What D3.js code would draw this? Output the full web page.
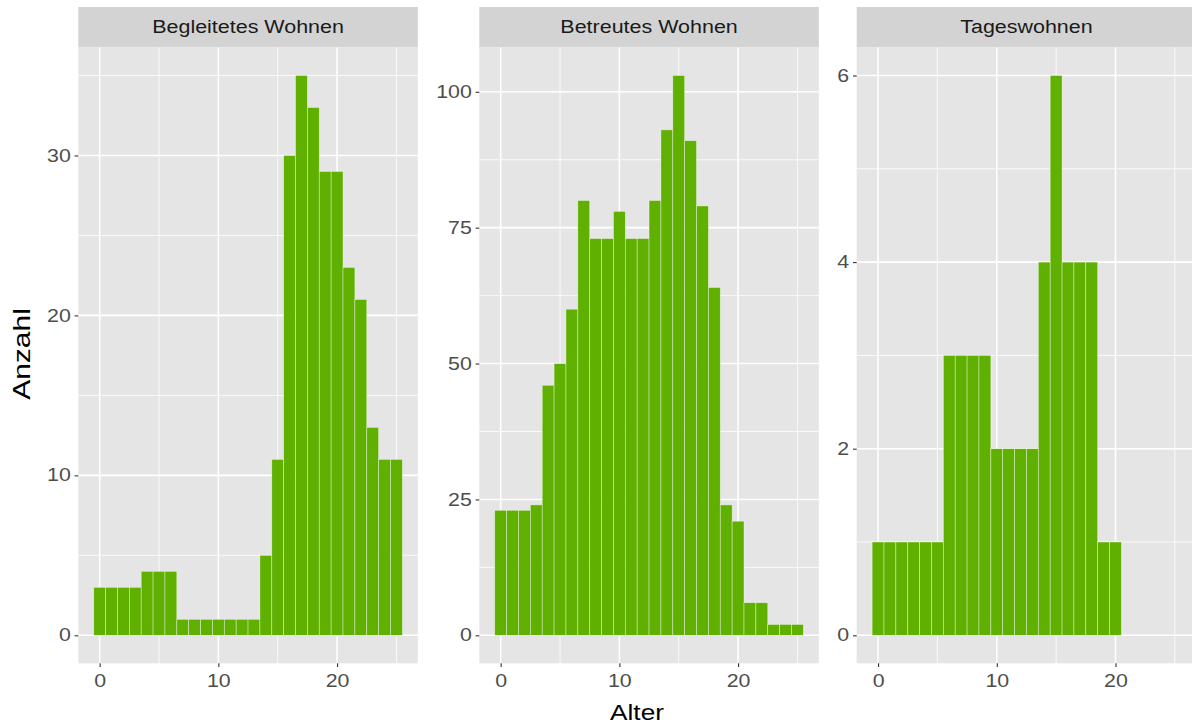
<!DOCTYPE html>
<html><head><meta charset="utf-8">
<script src="https://cdn.jsdelivr.net/npm/d3@7"></script>
<style>body{margin:0;background:#fff}svg{display:block;font-family:"Liberation Sans",Arial,Helvetica,sans-serif}</style>
</head><body><svg id="c" width="1192" height="726"></svg>
<script>
const facets = ["Begleitetes Wohnen", "Betreutes Wohnen", "Tageswohnen"];
const ageBegleitet = [0,1,2,3,4,5,6,7,8,9,10,11,12,13,14,15,16,17,18,19,20,21,22,23,24,25];
const countBegleitet = [3,3,3,3,4,4,4,1,1,1,1,1,1,1,5,11,30,35,33,29,29,23,21,13,11,11];
const ageBetreut = [0,1,2,3,4,5,6,7,8,9,10,11,12,13,14,15,16,17,18,19,20,21,22,23,24,25];
const countBetreut = [23,23,23,24,46,50,60,80,73,73,78,73,73,80,93,103,91,79,64,24,21,6,6,2,2,2];
const ageTages = [0,1,2,3,4,5,6,7,8,9,10,11,12,13,14,15,16,17,18,19,20];
const countTages = [1,1,1,1,1,1,3,3,3,3,2,2,2,2,4,6,4,4,4,1,1];
const xTicks = [0, 10, 20];
const xMinor = [5, 15, 25];
const yTicks1 = [0, 10, 20, 30];
const yTicks2 = [0, 25, 50, 75, 100];
const yTicks3 = [0, 2, 4, 6];
const xTitle = "Alter";
const yTitle = "Anzahl";

const series = [
  {name: facets[0], ages: ageBegleitet, counts: countBegleitet, ticks: yTicks1},
  {name: facets[1], ages: ageBetreut, counts: countBetreut, ticks: yTicks2},
  {name: facets[2], ages: ageTages, counts: countTages, ticks: yTicks3}
];

const svg = d3.select("#c");
const SX = 1.22;
const panelLefts = [78.3, 479.3, 856.7];
const panelW = 339.5;
const stripTop = 7, stripBot = 47.5, panelBot = 663.3;
const fill = "#5FB000";
const fmt = d3.format("d");

function stretchText(sel, cx, y, size, color, anchor, txt) {
  return sel.append("text").attr("transform", `translate(${cx},${y}) scale(${SX},1)`)
    .attr("text-anchor", anchor).attr("font-size", size).attr("fill", color).text(txt);
}

const xlo = -0.5, xhi = 25.5, xpad = (xhi - xlo) * 0.05;

series.forEach((s, i) => {
  const L = panelLefts[i];
  const x = d3.scaleLinear().domain([xlo - xpad, xhi + xpad]).range([L, L + panelW]);
  const ymax = d3.max(s.counts);
  const y = d3.scaleLinear().domain([-ymax * 0.05, ymax * 1.05]).range([panelBot, stripBot]);
  const g = svg.append("g");
  g.append("rect").attr("x", L).attr("y", stripTop).attr("width", panelW).attr("height", stripBot - stripTop).attr("fill", "#D3D3D3");
  stretchText(g, L + panelW / 2, (stripTop + stripBot) / 2 + 6.2, 17.6, "#1A1A1A", "middle", s.name);
  g.append("rect").attr("x", L).attr("y", stripBot).attr("width", panelW).attr("height", panelBot - stripBot).attr("fill", "#E5E5E5");
  const yMinor = [];
  for (let k = 0; k < s.ticks.length - 1; k++) yMinor.push((s.ticks[k] + s.ticks[k + 1]) / 2);
  const step = s.ticks[1] - s.ticks[0];
  if (s.ticks[s.ticks.length - 1] + step / 2 < ymax * 1.05) yMinor.push(s.ticks[s.ticks.length - 1] + step / 2);
  g.selectAll(".ymin").data(yMinor).enter().append("line")
    .attr("x1", L).attr("x2", L + panelW).attr("y1", d => y(d)).attr("y2", d => y(d))
    .attr("stroke", "#fff").attr("stroke-width", 0.8);
  g.selectAll(".xmin").data(xMinor).enter().append("line")
    .attr("x1", d => x(d)).attr("x2", d => x(d)).attr("y1", stripBot).attr("y2", panelBot)
    .attr("stroke", "#fff").attr("stroke-width", 0.8);
  g.selectAll(".ymaj").data(s.ticks).enter().append("line")
    .attr("x1", L).attr("x2", L + panelW).attr("y1", d => y(d)).attr("y2", d => y(d))
    .attr("stroke", "#fff").attr("stroke-width", 1.6);
  g.selectAll(".xmaj").data(xTicks).enter().append("line")
    .attr("x1", d => x(d)).attr("x2", d => x(d)).attr("y1", stripBot).attr("y2", panelBot)
    .attr("stroke", "#fff").attr("stroke-width", 1.6);
  g.selectAll(".bar").data(s.ages.map((a, j) => ({a, c: s.counts[j]}))).enter().append("rect")
    .attr("x", d => x(d.a - 0.5)).attr("width", d => x(d.a + 0.5) - x(d.a - 0.5))
    .attr("y", d => y(d.c)).attr("height", d => y(0) - y(d.c))
    .attr("fill", fill).attr("stroke", "#ffffff").attr("stroke-opacity", 0.55).attr("stroke-width", 0.7);
  const ya = g.append("g").attr("transform", `translate(${L},0)`)
    .call(d3.axisLeft(y).tickValues(s.ticks).tickFormat(fmt).tickSize(3.7).tickPadding(3));
  ya.select(".domain").remove();
  ya.selectAll("line").attr("stroke", "#333").attr("stroke-width", 1.1);
  ya.selectAll("text").attr("font-size", 17.5).attr("fill", "#4D4D4D")
    .attr("font-family", "Liberation Sans, Arial, sans-serif")
    .attr("x", -7.5 / SX).attr("transform", `scale(${SX},1)`);
  const xa = g.append("g").attr("transform", `translate(0,${panelBot})`)
    .call(d3.axisBottom(x).tickValues(xTicks).tickFormat(fmt).tickSize(3.7).tickPadding(8));
  xa.select(".domain").remove();
  xa.selectAll("line").attr("stroke", "#333").attr("stroke-width", 1.1);
  xa.selectAll("text").attr("font-size", 17.5).attr("fill", "#4D4D4D")
    .attr("font-family", "Liberation Sans, Arial, sans-serif")
    .attr("transform", `scale(${SX},1)`);
});

stretchText(svg, 637, 720, 21.5, "#000", "middle", xTitle);
svg.append("text").attr("transform", `translate(30,354) rotate(-90) scale(1.25,1)`).attr("text-anchor", "middle")
  .attr("font-size", 24).attr("fill", "#000").text(yTitle);
</script></body></html>
